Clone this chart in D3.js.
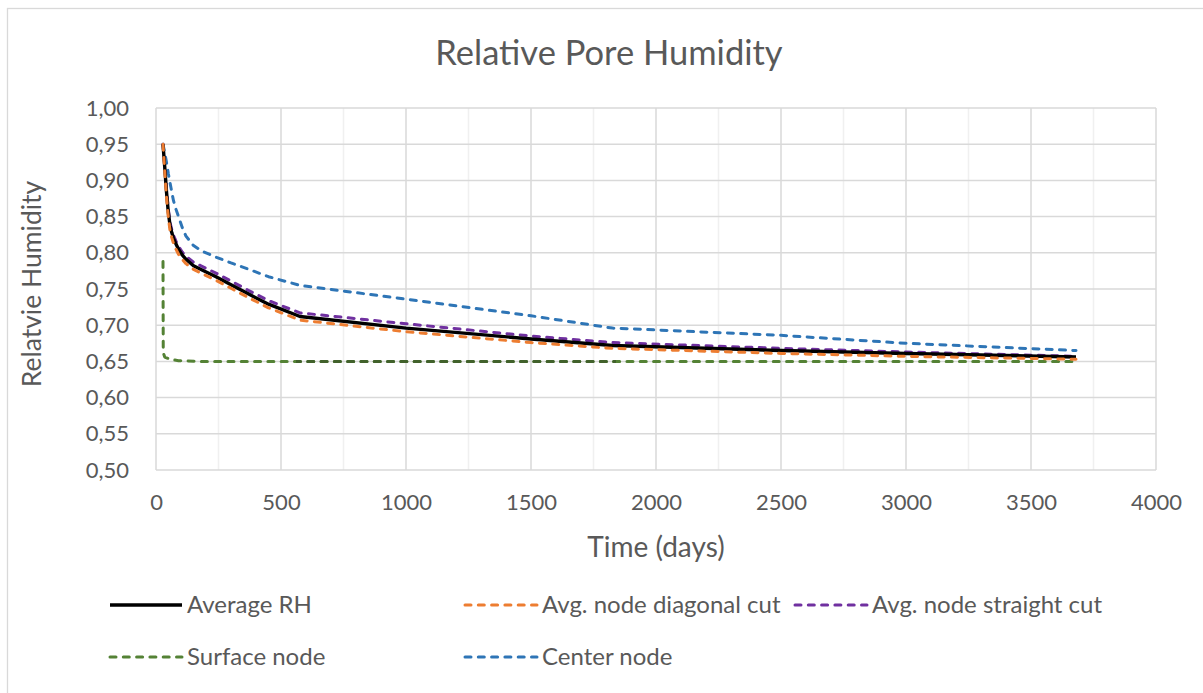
<!DOCTYPE html>
<html>
<head>
<meta charset="utf-8">
<script src="https://cdn.jsdelivr.net/npm/d3@7"></script>
<style>
  html, body { margin: 0; padding: 0; background: #fff; }
  svg { display: block; }
  text { font-family: Lato, "Open Sans", sans-serif; fill: #595959; }
</style>
</head>
<body>
<svg id="chart" width="1203" height="693"></svg>
<script>
// Sampling times (days) shared by the averaged series and the centre node
const days = [28, 35, 42, 49, 56, 63, 70, 80, 90, 105, 120, 150, 180, 240, 300, 365, 450, 576, 1000, 1500, 1826, 2500, 3000, 3680];

const averageRH   = [0.950, 0.918, 0.884, 0.857, 0.838, 0.828, 0.820, 0.812, 0.805, 0.797, 0.791, 0.782, 0.777, 0.767, 0.756, 0.744, 0.729, 0.712, 0.696, 0.681, 0.672, 0.665, 0.661, 0.656];
const diagonalCut = [0.950, 0.912, 0.877, 0.850, 0.831, 0.821, 0.813, 0.805, 0.798, 0.791, 0.785, 0.777, 0.772, 0.762, 0.751, 0.739, 0.724, 0.707, 0.691, 0.676, 0.668, 0.661, 0.657, 0.653];
const straightCut = [0.950, 0.920, 0.888, 0.861, 0.842, 0.832, 0.824, 0.816, 0.809, 0.801, 0.795, 0.787, 0.782, 0.772, 0.761, 0.749, 0.734, 0.717, 0.702, 0.685, 0.676, 0.668, 0.663, 0.657];
const centerNode  = [0.950, 0.938, 0.925, 0.910, 0.897, 0.884, 0.872, 0.860, 0.850, 0.835, 0.823, 0.810, 0.803, 0.794, 0.786, 0.778, 0.767, 0.755, 0.736, 0.713, 0.696, 0.686, 0.675, 0.665];

// The surface node reacts almost immediately, so it has its own sampling times
const surfaceDays = [28, 29, 35, 56, 90, 180, 576, 1826, 3680];
const surfaceNode = [0.788, 0.662, 0.656, 0.653, 0.651, 0.650, 0.650, 0.650, 0.650];
// Stretch where two coincident surface traces overprint (darker green)
const surfaceOverlap = [560, 1840];

const xTicks = [0, 500, 1000, 1500, 2000, 2500, 3000, 3500, 4000];
const xMinorTicks = [250, 750, 1250, 1750, 2250, 2750, 3250, 3750];
const yTicks = [0.50, 0.55, 0.60, 0.65, 0.70, 0.75, 0.80, 0.85, 0.90, 0.95, 1.00];

const seriesNames = ["Average RH", "Avg. node diagonal cut", "Avg. node straight cut", "Surface node", "Center node"];

const svg = d3.select("#chart");
const plot = { left: 156, right: 1156, top: 108, bottom: 470 };

const x = d3.scaleLinear().domain([0, 4000]).range([plot.left, plot.right]);
const y = d3.scaleLinear().domain([0.5, 1.0]).range([plot.bottom, plot.top]);

// Chart frame
svg.append("rect")
  .attr("x", 7.5).attr("y", 8.5)
  .attr("width", 1205).attr("height", 700)
  .attr("fill", "#fff").attr("stroke", "#d9d9d9").attr("stroke-width", 1.3);

const defs = svg.append("defs");
defs.append("clipPath").attr("id", "overlapClip")
  .append("rect")
  .attr("x", x(surfaceOverlap[0])).attr("y", plot.top)
  .attr("width", x(surfaceOverlap[1]) - x(surfaceOverlap[0]))
  .attr("height", plot.bottom - plot.top);

// Minor vertical gridlines
svg.append("g").selectAll("line").data(xMinorTicks).join("line")
  .attr("x1", d => x(d)).attr("x2", d => x(d))
  .attr("y1", plot.top).attr("y2", plot.bottom)
  .attr("stroke", "#f0f0f0").attr("stroke-width", 1.5);

// Major vertical gridlines
svg.append("g").selectAll("line").data(xTicks).join("line")
  .attr("x1", d => x(d)).attr("x2", d => x(d))
  .attr("y1", plot.top).attr("y2", plot.bottom)
  .attr("stroke", "#d9d9d9").attr("stroke-width", 1.5);

// Horizontal gridlines
svg.append("g").selectAll("line").data(yTicks).join("line")
  .attr("x1", plot.left).attr("x2", plot.right)
  .attr("y1", d => y(d)).attr("y2", d => y(d))
  .attr("stroke", "#d9d9d9").attr("stroke-width", 1.5);

// Y axis labels
const fmt = d => d3.format(".2f")(d).replace(".", ",");
const yAxis = d3.axisLeft(y).tickValues(yTicks).tickFormat(fmt).tickSize(0).tickPadding(27);
const gy = svg.append("g").attr("transform", `translate(${plot.left},0)`).call(yAxis);
gy.select(".domain").remove();
gy.selectAll("text").style("font-size", "22px").attr("fill", "#595959").style("font-family", "Lato, sans-serif");

// X axis labels
const xAxis = d3.axisBottom(x).tickValues(xTicks).tickFormat(d3.format("d")).tickSize(0).tickPadding(24);
const gx = svg.append("g").attr("transform", `translate(0,${plot.bottom})`).call(xAxis);
gx.select(".domain").remove();
gx.selectAll("text").style("font-size", "22px").attr("fill", "#595959").style("font-family", "Lato, sans-serif");

// Titles
svg.append("text").attr("x", 609).attr("y", 65).attr("text-anchor", "middle")
  .style("font-size", "34.5px").text("Relative Pore Humidity");
svg.append("text").attr("x", 656).attr("y", 557).attr("text-anchor", "middle")
  .style("font-size", "28px").text("Time (days)");
svg.append("text").attr("transform", "translate(41,284) rotate(-90)").attr("text-anchor", "middle")
  .style("font-size", "26.5px").text("Relatvie Humidity");

// Series
const dash = "6,7.3";
const series = [
  { name: seriesNames[0], xs: days, ys: averageRH,   color: "#000000", dash: null },
  { name: seriesNames[1], xs: days, ys: diagonalCut, color: "#ED7D31", dash: dash },
  { name: seriesNames[2], xs: days, ys: straightCut, color: "#7030A0", dash: dash },
  { name: seriesNames[3], xs: surfaceDays, ys: surfaceNode, color: "#548235", dash: dash },
  { name: seriesNames[4], xs: days, ys: centerNode,  color: "#2E75B6", dash: dash }
];

const line = d3.line().x(d => x(d[0])).y(d => y(d[1]));

function drawSeries(g, s, stroke, clip) {
  const pts = s.xs.map((t, k) => [t, s.ys[k]]);
  const p = g.append("path")
    .datum(pts)
    .attr("d", line)
    .attr("fill", "none")
    .attr("stroke", stroke)
    .attr("stroke-width", s.dash ? 3 : 3.4)
    .attr("stroke-linecap", s.dash ? "round" : "butt")
    .attr("stroke-linejoin", "round")
    .attr("stroke-dasharray", s.dash);
  if (clip) p.attr("clip-path", clip);
}

// Draw order: surface, center, straight, average, diagonal
const order = [3, 4, 2, 0, 1];
const gLines = svg.append("g");
order.forEach(i => {
  drawSeries(gLines, series[i], series[i].color);
  if (i === 3) drawSeries(gLines, series[i], "#41612b", "url(#overlapClip)");
});

// Legend
const legendPos = [
  { sx: 110, ty: 605 }, { sx: 465, ty: 605 }, { sx: 795, ty: 605 },
  { sx: 110, ty: 657 }, { sx: 465, ty: 657 }
];
const gLeg = svg.append("g");
series.forEach((s, i) => {
  const p = legendPos[i];
  gLeg.append("line")
    .attr("x1", p.sx).attr("x2", p.sx + 72)
    .attr("y1", p.ty).attr("y2", p.ty)
    .attr("stroke", s.color)
    .attr("stroke-width", s.dash ? 3 : 3.4)
    .attr("stroke-linecap", s.dash ? "round" : "butt")
    .attr("stroke-dasharray", s.dash);
  gLeg.append("text")
    .attr("x", p.sx + 77).attr("y", p.ty)
    .attr("dy", "0.35em")
    .style("font-size", "24px")
    .text(s.name);
});
</script>
</body>
</html>
